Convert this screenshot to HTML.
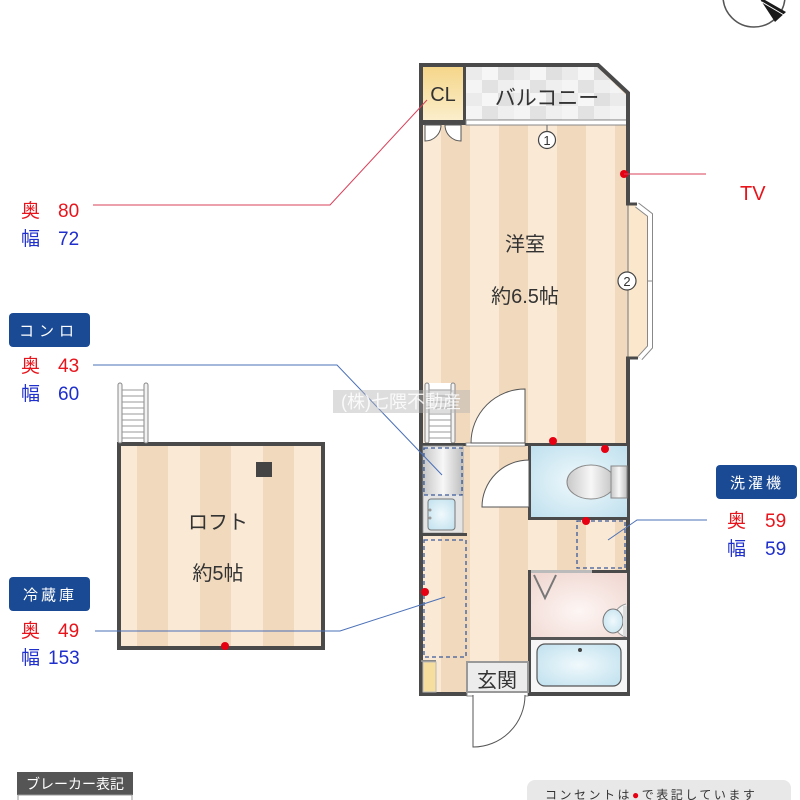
<!DOCTYPE html>
<html><head><meta charset="utf-8">
<style>
html,body{margin:0;padding:0;background:#fff;}
svg{display:block;}
text{font-family:"Liberation Sans","Noto Sans CJK JP",sans-serif;}
</style></head>
<body>
<svg width="800" height="800" viewBox="0 0 800 800" xmlns="http://www.w3.org/2000/svg">
<defs>
  <pattern id="fl" x="441" y="0" width="58" height="10" patternUnits="userSpaceOnUse">
    <rect x="0" y="0" width="29" height="10" fill="#f0d9bd"/>
    <rect x="29" y="0" width="29" height="10" fill="#f9e9d5"/>
  </pattern>
  <pattern id="fl2" x="137" y="0" width="63" height="10" patternUnits="userSpaceOnUse">
    <rect x="0" y="0" width="31" height="10" fill="#f0d9bd"/>
    <rect x="31" y="0" width="32" height="10" fill="#f9e9d5"/>
  </pattern>
  <pattern id="tile" x="466" y="67" width="48" height="26" patternUnits="userSpaceOnUse">
    <rect x="0" y="0" width="16" height="13" fill="#ebebeb"/>
    <rect x="16" y="0" width="16" height="13" fill="#f6f6f6"/>
    <rect x="32" y="0" width="16" height="13" fill="#e0e0e0"/>
    <rect x="0" y="13" width="16" height="13" fill="#f4f4f4"/>
    <rect x="16" y="13" width="16" height="13" fill="#e2e2e2"/>
    <rect x="32" y="13" width="16" height="13" fill="#efefef"/>
  </pattern>
  <linearGradient id="cl" x1="0" y1="0" x2="0" y2="1">
    <stop offset="0" stop-color="#f5d68a"/><stop offset="1" stop-color="#fbeecb"/>
  </linearGradient>
  <linearGradient id="silver" x1="0" y1="0" x2="1" y2="0">
    <stop offset="0" stop-color="#c8c8c8"/><stop offset="0.5" stop-color="#f7f7f7"/><stop offset="1" stop-color="#c0c0c0"/>
  </linearGradient>
  <radialGradient id="blue" cx="0.5" cy="0.5" r="0.7">
    <stop offset="0" stop-color="#f0f9fc"/><stop offset="1" stop-color="#bfe0ee"/>
  </radialGradient>
  <radialGradient id="pink" cx="0.5" cy="0.6" r="0.7">
    <stop offset="0" stop-color="#fdf6f4"/><stop offset="1" stop-color="#f1d8d2"/>
  </radialGradient>
</defs>

<!-- compass -->
<circle cx="754" cy="-4" r="31" fill="#fff" stroke="#555" stroke-width="1.5"/>
<polygon points="758,-4 786,12 775,22" fill="#1a1a1a"/>
<line x1="762" y1="2" x2="784" y2="15" stroke="#fff" stroke-width="1"/>

<!-- main floor -->
<polygon points="421,65 598,65 628,93 628,695 421,695" fill="url(#fl)"/>
<!-- balcony -->
<polygon points="466,67 597,67 626,95 626,120 466,120" fill="url(#tile)"/>
<text x="547" y="105" font-size="21" fill="#333" text-anchor="middle">バルコニー</text>
<!-- CL -->
<rect x="423" y="67" width="40" height="53" fill="url(#cl)"/>
<text x="443" y="101" font-size="20" fill="#333" text-anchor="middle">CL</text>
<rect x="463" y="65" width="3" height="60" fill="#4a4a4a"/>
<rect x="421" y="120" width="45" height="5" fill="#4a4a4a"/>
<!-- balcony window -->
<rect x="466" y="120" width="161" height="5" fill="#fff" stroke="#888" stroke-width="1"/>
<line x1="547" y1="125" x2="547" y2="132" stroke="#666" stroke-width="1"/>
<circle cx="547" cy="140" r="8.5" fill="#fff" stroke="#444" stroke-width="1.2"/>
<text x="547" y="145" font-size="13" fill="#333" text-anchor="middle">1</text>
<!-- CL doors -->
<path d="M425,125 L425,141 A16,16 0 0 0 441,125 Z" fill="#fff" stroke="#555" stroke-width="1"/>
<path d="M461,125 L461,141 A16,16 0 0 1 445,125 Z" fill="#fff" stroke="#555" stroke-width="1"/>

<!-- outer walls -->
<path d="M421,63 L421,696" stroke="#4a4a4a" stroke-width="4" fill="none"/>
<path d="M419,65 L598,65 L628,93 L628,204" stroke="#4a4a4a" stroke-width="4" fill="none" stroke-linejoin="miter"/>
<path d="M628,357 L628,696" stroke="#4a4a4a" stroke-width="4" fill="none"/>
<line x1="419" y1="694" x2="467" y2="694" stroke="#4a4a4a" stroke-width="4"/>
<line x1="528" y1="694" x2="630" y2="694" stroke="#4a4a4a" stroke-width="4"/>
<rect x="467" y="692" width="61" height="4" fill="#fff" stroke="#888" stroke-width="1"/>

<!-- window bay -->
<path d="M628,205 L637,205 L650,215 L650,347 L640,358 L628,358 Z" fill="#fbe8cc"/>
<path d="M637,205 L650,215 L650,347 L640,358" fill="none" stroke="#888" stroke-width="6"/>
<path d="M637,205 L650,215 L650,347 L640,358" fill="none" stroke="#fff" stroke-width="4"/>
<line x1="628" y1="204" x2="628" y2="358" stroke="#888" stroke-width="1.2"/>
<line x1="626" y1="204" x2="637" y2="204" stroke="#4a4a4a" stroke-width="3"/>
<line x1="626" y1="358" x2="638" y2="358" stroke="#4a4a4a" stroke-width="3"/>
<line x1="647" y1="281" x2="652" y2="281" stroke="#888" stroke-width="1"/>
<circle cx="627" cy="281" r="9" fill="#fff" stroke="#444" stroke-width="1.2"/>
<text x="627" y="286" font-size="13" fill="#333" text-anchor="middle">2</text>

<!-- room labels -->
<text x="525" y="251" font-size="20" fill="#333" text-anchor="middle">洋室</text>
<text x="525" y="303" font-size="20" fill="#333" text-anchor="middle">約6.5帖</text>

<!-- ladder main -->
<g>
  <rect x="427" y="383" width="26" height="60" fill="#fff"/>
  <rect x="425" y="383" width="4" height="60" rx="2" fill="#f2f2f2" stroke="#888" stroke-width="1"/>
  <rect x="451" y="383" width="4" height="60" rx="2" fill="#f2f2f2" stroke="#888" stroke-width="1"/>
  <g stroke="#999" stroke-width="1">
    <line x1="429" y1="390" x2="451" y2="390"/><line x1="429" y1="396" x2="451" y2="396"/>
    <line x1="429" y1="402" x2="451" y2="402"/><line x1="429" y1="408" x2="451" y2="408"/>
    <line x1="429" y1="414" x2="451" y2="414"/><line x1="429" y1="420" x2="451" y2="420"/>
    <line x1="429" y1="426" x2="451" y2="426"/><line x1="429" y1="432" x2="451" y2="432"/>
    <line x1="429" y1="438" x2="451" y2="438"/>
  </g>
</g>

<!-- mid wall -->
<rect x="421" y="443" width="45" height="3" fill="#4a4a4a"/>
<rect x="466" y="443" width="59" height="3" fill="#fff" stroke="#888" stroke-width="0.8"/>
<rect x="525" y="443" width="104" height="3" fill="#4a4a4a"/>
<path d="M525,443 L525,389 A54,54 0 0 0 471,443 Z" fill="#fff" stroke="#555" stroke-width="1"/>

<!-- kitchen -->
<rect x="423" y="446" width="40" height="87" fill="#e4e4e4" stroke="#999" stroke-width="0.8"/>
<rect x="424" y="448" width="38" height="47" fill="url(#silver)" stroke="#3b5a9a" stroke-width="1.3" stroke-dasharray="4,3"/>
<rect x="428" y="499" width="27" height="31" rx="3" fill="url(#blue)" stroke="#777" stroke-width="1"/>
<circle cx="430" cy="510" r="1.5" fill="#999"/><circle cx="430" cy="518" r="1.5" fill="#999"/>
<rect x="421" y="533" width="46" height="3" fill="#4a4a4a"/>

<!-- toilet -->
<rect x="531" y="446" width="96" height="71" fill="url(#blue)"/>
<rect x="528" y="444" width="3" height="76" fill="#4a4a4a"/>
<rect x="528" y="517" width="101" height="3" fill="#4a4a4a"/>
<path d="M529,507 L529,460 A47,47 0 0 0 482,507 Z" fill="#fff" stroke="#555" stroke-width="1"/>
<ellipse cx="591" cy="482" rx="24" ry="17" fill="url(#silver)" stroke="#888" stroke-width="1"/>
<rect x="611" y="466" width="16" height="32" fill="url(#silver)" stroke="#888" stroke-width="1"/>

<!-- laundry -->
<rect x="577" y="521" width="48" height="47" fill="none" stroke="#3b5a9a" stroke-width="1.3" stroke-dasharray="4,3"/>

<!-- washroom -->
<rect x="531" y="573" width="96" height="64" fill="url(#pink)"/>
<rect x="528" y="570" width="101" height="3" fill="#4a4a4a"/>
<rect x="531" y="570" width="61" height="3" fill="#bbb"/>
<rect x="528" y="570" width="3" height="126" fill="#4a4a4a"/>
<polyline points="534,575 545,598 556,575" fill="none" stroke="#777" stroke-width="2"/>
<path d="M626,604 A17,17 0 0 0 626,637" fill="#f4f4f4" stroke="#999" stroke-width="1"/>
<ellipse cx="613" cy="621" rx="10" ry="12" fill="url(#blue)" stroke="#777" stroke-width="1"/>
<rect x="623" y="606" width="4" height="30" fill="#ddd"/>
<rect x="531" y="637" width="96" height="3" fill="#555"/>
<!-- bath -->
<rect x="531" y="640" width="96" height="52" fill="#f6f6f6"/>
<rect x="537" y="644" width="84" height="42" rx="8" fill="url(#blue)" stroke="#555" stroke-width="1.2"/>
<circle cx="580" cy="650" r="2" fill="#444"/>

<!-- fridge -->
<rect x="424" y="540" width="42" height="117" fill="none" stroke="#3b5a9a" stroke-width="1.3" stroke-dasharray="4,3"/>
<!-- small yellow shelf -->
<rect x="421" y="660" width="15" height="2" fill="#888"/>
<rect x="423" y="662" width="13" height="30" fill="#f6de9e" stroke="#bbb" stroke-width="1"/>
<!-- entrance -->
<rect x="467" y="662" width="61" height="30" fill="#ececec" stroke="#999" stroke-width="2"/>
<text x="497" y="687" font-size="20" fill="#333" text-anchor="middle">玄関</text>
<path d="M473,695 L473,747 A52,52 0 0 0 525,695" fill="#fff" stroke="#555" stroke-width="1"/>

<!-- loft -->
<rect x="119" y="444" width="204" height="204" fill="url(#fl2)" stroke="#4a4a4a" stroke-width="4"/>
<rect x="256" y="462" width="16" height="15" fill="#444"/>
<text x="218" y="529" font-size="20" fill="#333" text-anchor="middle">ロフト</text>
<text x="218" y="580" font-size="20" fill="#333" text-anchor="middle">約5帖</text>
<g>
  <rect x="120" y="383" width="26" height="59" fill="#fff"/>
  <rect x="118" y="383" width="4" height="60" rx="2" fill="#f2f2f2" stroke="#888" stroke-width="1"/>
  <rect x="144" y="383" width="4" height="60" rx="2" fill="#f2f2f2" stroke="#888" stroke-width="1"/>
  <g stroke="#999" stroke-width="1">
    <line x1="122" y1="390" x2="144" y2="390"/><line x1="122" y1="396" x2="144" y2="396"/>
    <line x1="122" y1="402" x2="144" y2="402"/><line x1="122" y1="408" x2="144" y2="408"/>
    <line x1="122" y1="414" x2="144" y2="414"/><line x1="122" y1="420" x2="144" y2="420"/>
    <line x1="122" y1="426" x2="144" y2="426"/><line x1="122" y1="432" x2="144" y2="432"/>
    <line x1="122" y1="438" x2="144" y2="438"/>
  </g>
</g>

<!-- red dots -->
<g fill="#e60012">
  <circle cx="624" cy="174" r="4"/>
  <circle cx="553" cy="441" r="4"/>
  <circle cx="605" cy="449" r="4"/>
  <circle cx="586" cy="521" r="4"/>
  <circle cx="425" cy="592" r="4"/>
  <circle cx="225" cy="646" r="4"/>
</g>

<!-- leader lines -->
<polyline points="93,205 330,205 427,100" fill="none" stroke="#d9405a" stroke-width="1"/>
<line x1="624" y1="174" x2="706" y2="174" stroke="#d9405a" stroke-width="1"/>
<polyline points="93,365 337,365 442,475" fill="none" stroke="#4a70b8" stroke-width="1"/>
<polyline points="95,631 340,631 445,597" fill="none" stroke="#4a70b8" stroke-width="1"/>
<polyline points="707,520 637,520 608,540" fill="none" stroke="#4a70b8" stroke-width="1"/>

<!-- labels -->
<g font-size="19">
  <text x="21" y="217" fill="#e8141b">奥</text><text x="58" y="217" fill="#e8141b">80</text>
  <text x="21" y="245" fill="#1f2fcc">幅</text><text x="58" y="245" fill="#1f2fcc">72</text>
  <text x="21" y="372" fill="#e8141b">奥</text><text x="58" y="372" fill="#e8141b">43</text>
  <text x="21" y="400" fill="#1f2fcc">幅</text><text x="58" y="400" fill="#1f2fcc">60</text>
  <text x="21" y="637" fill="#e8141b">奥</text><text x="58" y="637" fill="#e8141b">49</text>
  <text x="21" y="664" fill="#1f2fcc">幅</text><text x="48" y="664" fill="#1f2fcc">153</text>
  <text x="727" y="527" fill="#e8141b">奥</text><text x="765" y="527" fill="#e8141b">59</text>
  <text x="727" y="555" fill="#1f2fcc">幅</text><text x="765" y="555" fill="#1f2fcc">59</text>
</g>
<text x="740" y="200" font-size="20" fill="#e8141b">TV</text>

<!-- badges -->
<rect x="9" y="313" width="81" height="34" rx="4" fill="#1a4a94"/>
<text x="49" y="336" font-size="15" fill="#fff" text-anchor="middle" letter-spacing="5">コンロ</text>
<rect x="9" y="577" width="81" height="34" rx="4" fill="#1a4a94"/>
<text x="50" y="600" font-size="15" fill="#fff" text-anchor="middle" letter-spacing="3">冷蔵庫</text>
<rect x="716" y="465" width="81" height="34" rx="4" fill="#1a4a94"/>
<text x="757" y="488" font-size="15" fill="#fff" text-anchor="middle" letter-spacing="3">洗濯機</text>

<!-- watermark -->
<rect x="333" y="390" width="137" height="23" fill="rgba(180,180,180,0.45)"/>
<text x="401" y="408" font-size="18" fill="rgba(255,255,255,0.85)" text-anchor="middle">(株)七隈不動産</text>

<!-- bottom -->
<rect x="17" y="772" width="116" height="23" fill="#555"/>
<text x="75" y="789" font-size="14" fill="#fff" text-anchor="middle">ブレーカー表記</text>
<rect x="18" y="795" width="114" height="10" fill="#fff" stroke="#999" stroke-width="1"/>
<rect x="527" y="780" width="264" height="30" rx="8" fill="#e8e8e8"/>
<text x="545" y="799" font-size="12" fill="#333" letter-spacing="2.5">コンセントは<tspan fill="#e60012">●</tspan>で表記しています</text>
</svg>
</body></html>
